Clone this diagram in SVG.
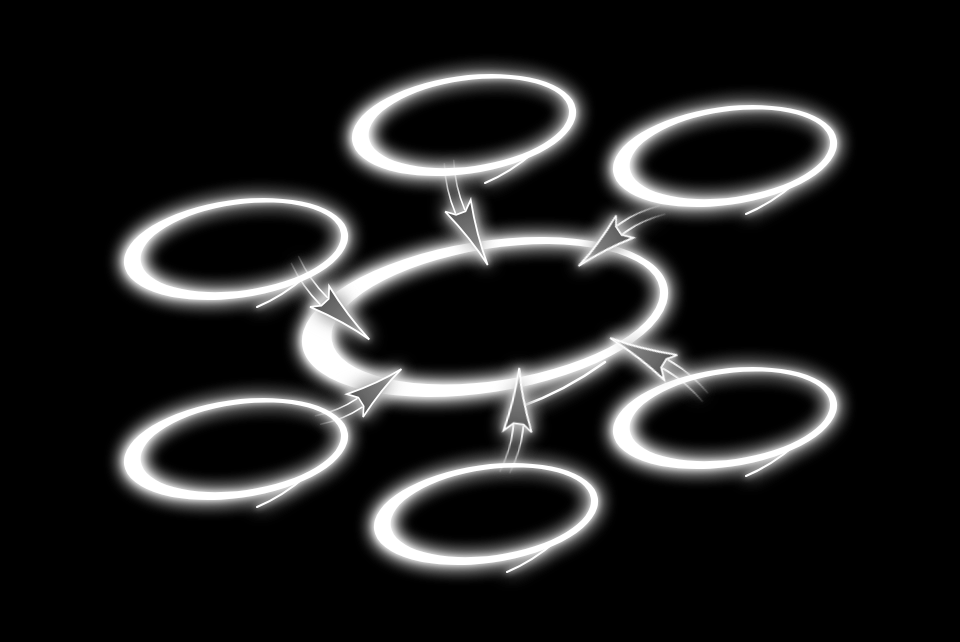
<svg xmlns="http://www.w3.org/2000/svg" xmlns:xlink="http://www.w3.org/1999/xlink" width="960" height="642" viewBox="0 0 960 642">
<style>
.ring{fill:#fff;fill-rule:evenodd}
.tl{fill:none;stroke:#fff;stroke-width:2;stroke-linecap:round}
.tail{fill:none;stroke:url(#tailGrad);stroke-width:1.6;stroke-linecap:round}
.head{fill:url(#headGrad);stroke:#fff;stroke-width:1.8;stroke-linejoin:miter}
</style>
<defs>
<filter id="glow" x="-30%" y="-50%" width="160%" height="200%">
<feGaussianBlur in="SourceGraphic" stdDeviation="3" result="b1"/>
<feGaussianBlur in="SourceGraphic" stdDeviation="9" result="b2"/>
<feMerge><feMergeNode in="b2"/><feMergeNode in="b2"/><feMergeNode in="b1"/><feMergeNode in="SourceGraphic"/></feMerge>
</filter>
<linearGradient id="tailGrad" gradientUnits="userSpaceOnUse" x1="0" y1="0" x2="40" y2="0">
<stop offset="0" stop-color="#fff" stop-opacity="0.15"/>
<stop offset="1" stop-color="#fff" stop-opacity="1"/>
</linearGradient>
<linearGradient id="headGrad" x1="0" y1="0" x2="1" y2="0">
<stop offset="0" stop-color="#555"/>
<stop offset="0.6" stop-color="#808080"/>
<stop offset="1" stop-color="#d0d0d0"/>
</linearGradient>
<g id="smallRing">
<g transform="rotate(-8)">
<path class="ring" d="M-113,0 A113,49 0 1,0 113,0 A113,49 0 1,0 -113,0 Z M-96,-1 A101,43 0 1,0 106,-1 A101,43 0 1,0 -96,-1 Z"/>
</g>
<path class="tl" d="M21,58 Q47,47 70,27"/>
</g>
<g id="arrow">
<path class="tail" d="M0,-5 Q25,3 50,2"/>
<path class="tail" d="M0,5 Q25,13 50,12"/>
<path class="head" d="M52,2 L43,-7 Q78,0 110,0 Q80,6 45,21 L52,12 Z"/>
</g>
</defs>
<rect x="0" y="0" width="960" height="642" fill="#000"/>
<g id="n-top" filter="url(#glow)"><use xlink:href="#smallRing" href="#smallRing" transform="translate(464,125)"/></g>
<g id="n-topright" filter="url(#glow)"><use xlink:href="#smallRing" href="#smallRing" transform="translate(725,156)"/></g>
<g id="n-left" filter="url(#glow)"><use xlink:href="#smallRing" href="#smallRing" transform="translate(236,249)"/></g>
<g id="n-bottomleft" filter="url(#glow)"><use xlink:href="#smallRing" href="#smallRing" transform="translate(236,449)"/></g>
<g id="n-bottom" filter="url(#glow)"><use xlink:href="#smallRing" href="#smallRing" transform="translate(486,514)"/></g>
<g id="n-right" filter="url(#glow)"><use xlink:href="#smallRing" href="#smallRing" transform="translate(725,418)"/></g>
<g id="n-center" filter="url(#glow)">
<g transform="translate(485,317)">
<g transform="rotate(-9)">
<path class="ring" d="M-185,0 A185,75.5 0 1,0 185,0 A185,75.5 0 1,0 -185,0 Z M-155,-1 A166,66 0 1,0 177,-1 A166,66 0 1,0 -155,-1 Z"/>
</g>
<path class="tl" style="stroke-width:2.5" d="M35,90 Q80,74 120,45"/>
</g>
</g>
<g id="connectors" filter="url(#glow)">
<use xlink:href="#arrow" href="#arrow" transform="translate(449,162) rotate(69.4)"/>
<use xlink:href="#arrow" href="#arrow" transform="translate(662,210) rotate(146.1) scale(0.914,1)"/>
<use xlink:href="#arrow" href="#arrow" transform="translate(295,260) rotate(46.9) scale(0.989,1)"/>
<use xlink:href="#arrow" href="#arrow" transform="translate(318,420) rotate(-31.4) scale(0.889,1)"/>
<use xlink:href="#arrow" href="#arrow" transform="translate(505,472) rotate(-82.2) scale(0.954,1)"/>
<use xlink:href="#arrow" href="#arrow" transform="translate(705,397) rotate(-148.1) scale(1.015,1)"/>
</g>
</svg>
